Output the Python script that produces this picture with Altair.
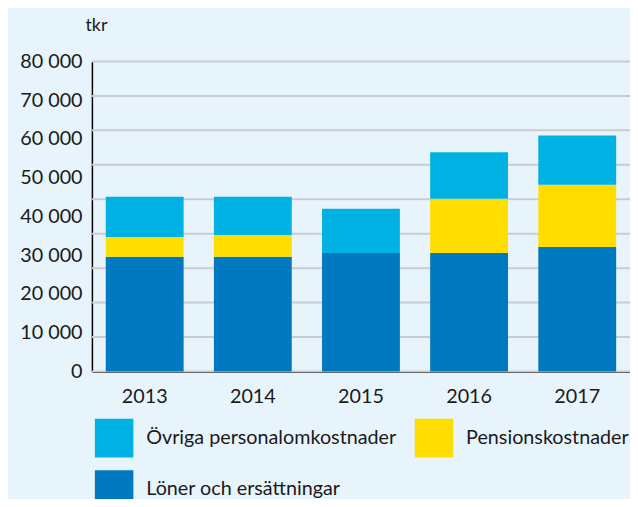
import altair as alt
import pandas as pd
import numpy as np

years = ["2013", "2014", "2015", "2016", "2017"]
loner = [29600, 29600, 30600, 30600, 32100]
pension = [5100, 5600, 0, 14000, 16100]
ovriga = [10400, 9900, 11400, 12000, 12700]

series_names = ["Övriga personalomkostnader", "Pensionskostnader", "Löner och ersättningar"]
series_colors = ["#00b2e3", "#ffdd00", "#0079c1"]
stack_rank = {"Löner och ersättningar": 0, "Pensionskostnader": 1, "Övriga personalomkostnader": 2}

rows = []
for i, y in enumerate(years):
    for name, vals in (("Löner och ersättningar", loner), ("Pensionskostnader", pension),
                       ("Övriga personalomkostnader", ovriga)):
        rows.append({"year": y, "series": name, "value": vals[i], "rank": stack_rank[name]})
df = pd.DataFrame(rows)

grid_df = pd.DataFrame({"g": np.linspace(0, 80000, 10)})

FONT = "Lato"
yscale = alt.Scale(domain=[0, 80000], nice=False, zero=True)

yaxis = alt.Axis(title="tkr", titleAngle=0, titleX=-7, titleY=-31, titleAlign="left",
                 titleBaseline="alphabetic", titleFontSize=18, titleFontWeight="normal",
                 titleFont=FONT, titleColor="#1a1a1a",
                 values=[0, 10000, 20000, 30000, 40000, 50000, 60000, 70000, 80000],
                 labelExpr="replace(format(datum.value, ','), ',', ' ')",
                 labelFontSize=20, labelFont=FONT, labelColor="#1a1a1a",
                 ticks=False, labelPadding=10, grid=False,
                 domainColor="#000000", domainWidth=1.5)

grid = alt.Chart(grid_df).mark_rule(color="#c9cdd1", strokeWidth=2).encode(
    y=alt.Y("g:Q", scale=yscale, axis=yaxis)
)

bars = alt.Chart(df).mark_bar().encode(
    x=alt.X("year:N", sort=years,
            scale=alt.Scale(paddingInner=0.28, paddingOuter=0.128),
            axis=alt.Axis(title=None, labelAngle=0, labelFontSize=20, labelColor="#1a1a1a",
                          labelFont=FONT, ticks=False, labelPadding=15, domainColor="#000000",
                          domainWidth=2, grid=False)),
    y=alt.Y("value:Q", stack="zero", scale=yscale, axis=yaxis),
    color=alt.Color("series:N", scale=alt.Scale(domain=series_names, range=series_colors),
                    legend=alt.Legend(title=None, orient="none", legendX=3, legendY=362,
                                      columns=2, direction="horizontal",
                                      symbolType="square", symbolSize=1521,
                                      symbolStrokeWidth=0, symbolOpacity=1,
                                      labelFontSize=20, labelFont=FONT, labelColor="#1a1a1a",
                                      labelOffset=13, columnPadding=18, rowPadding=13,
                                      labelLimit=400)),
    order=alt.Order("rank:Q", sort="ascending"),
)

chart = alt.layer(grid, bars).properties(
    width=545, height=314,
    padding={"left": 85, "top": 51, "right": 0, "bottom": 126},
    autosize=alt.AutoSizeParams(type="none"),
    background="#e8f4fc",
).configure_view(stroke=None)

chart.save("out.html", embed_options={"renderer": "svg", "actions": False})
